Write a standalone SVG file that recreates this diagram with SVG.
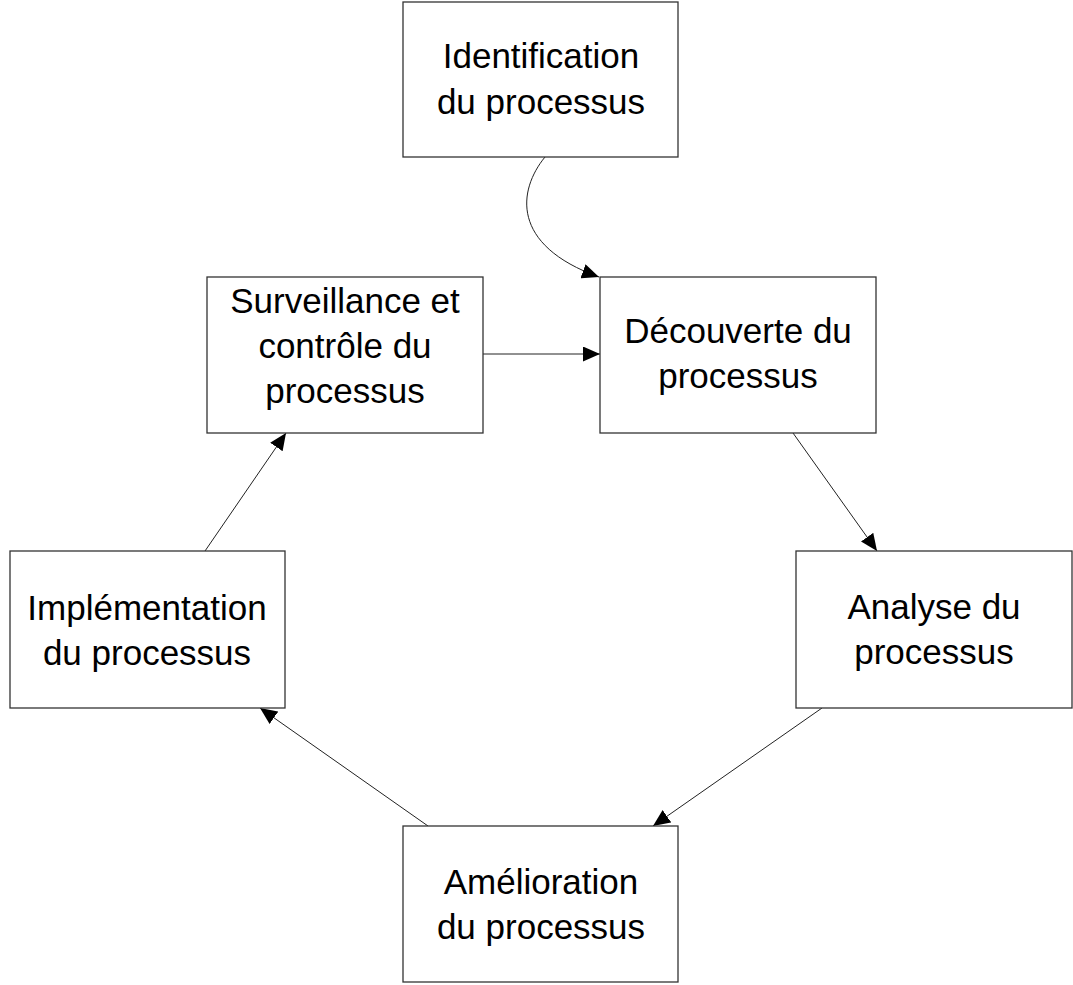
<svg xmlns="http://www.w3.org/2000/svg" width="1073" height="985" viewBox="0 0 1073 985">
<style>
.box{fill:#ffffff;stroke:#333333;stroke-width:1.3}
.lbl{font-family:"Liberation Sans",Arial,sans-serif;font-size:35px;fill:#000000;text-anchor:middle}
.edge{fill:none;stroke:#222222;stroke-width:1}
</style>
<defs>
<marker id="arr" markerUnits="userSpaceOnUse" markerWidth="18" markerHeight="15" refX="17" refY="7.5" orient="auto">
<path d="M0,0 L17,7.5 L0,15 Z" fill="#000000"/>
</marker>
</defs>
<rect width="1073" height="985" fill="#ffffff"/>
<g id="connectors">
<path class="edge" d="M545,157 C518,190 510,245 599,277" marker-end="url(#arr)"/>
<path class="edge" d="M483,354 L600,354" marker-end="url(#arr)"/>
<path class="edge" d="M793,433 L877,551" marker-end="url(#arr)"/>
<path class="edge" d="M822,708 L653,826" marker-end="url(#arr)"/>
<path class="edge" d="M428,826 L260,708" marker-end="url(#arr)"/>
<path class="edge" d="M205,551 L286,433" marker-end="url(#arr)"/>
</g>
<g id="identification">
<rect class="box" x="403" y="2" width="275" height="155"/>
<text class="lbl" x="541" y="68">Identification</text>
<text class="lbl" x="541" y="114">du processus</text>
</g>
<g id="surveillance">
<rect class="box" x="207" y="277" width="276" height="156"/>
<text class="lbl" x="345" y="313">Surveillance et</text>
<text class="lbl" x="345" y="358">contrôle du</text>
<text class="lbl" x="345" y="403">processus</text>
</g>
<g id="decouverte">
<rect class="box" x="600" y="277" width="276" height="156"/>
<text class="lbl" x="738" y="343">Découverte du</text>
<text class="lbl" x="738" y="388">processus</text>
</g>
<g id="implementation">
<rect class="box" x="10" y="551" width="275" height="157"/>
<text class="lbl" x="147" y="620">Implémentation</text>
<text class="lbl" x="147" y="665">du processus</text>
</g>
<g id="analyse">
<rect class="box" x="796" y="551" width="276" height="157"/>
<text class="lbl" x="934" y="619">Analyse du</text>
<text class="lbl" x="934" y="664">processus</text>
</g>
<g id="amelioration">
<rect class="box" x="403" y="826" width="275" height="156"/>
<text class="lbl" x="541" y="894">Amélioration</text>
<text class="lbl" x="541" y="939">du processus</text>
</g>
</svg>
